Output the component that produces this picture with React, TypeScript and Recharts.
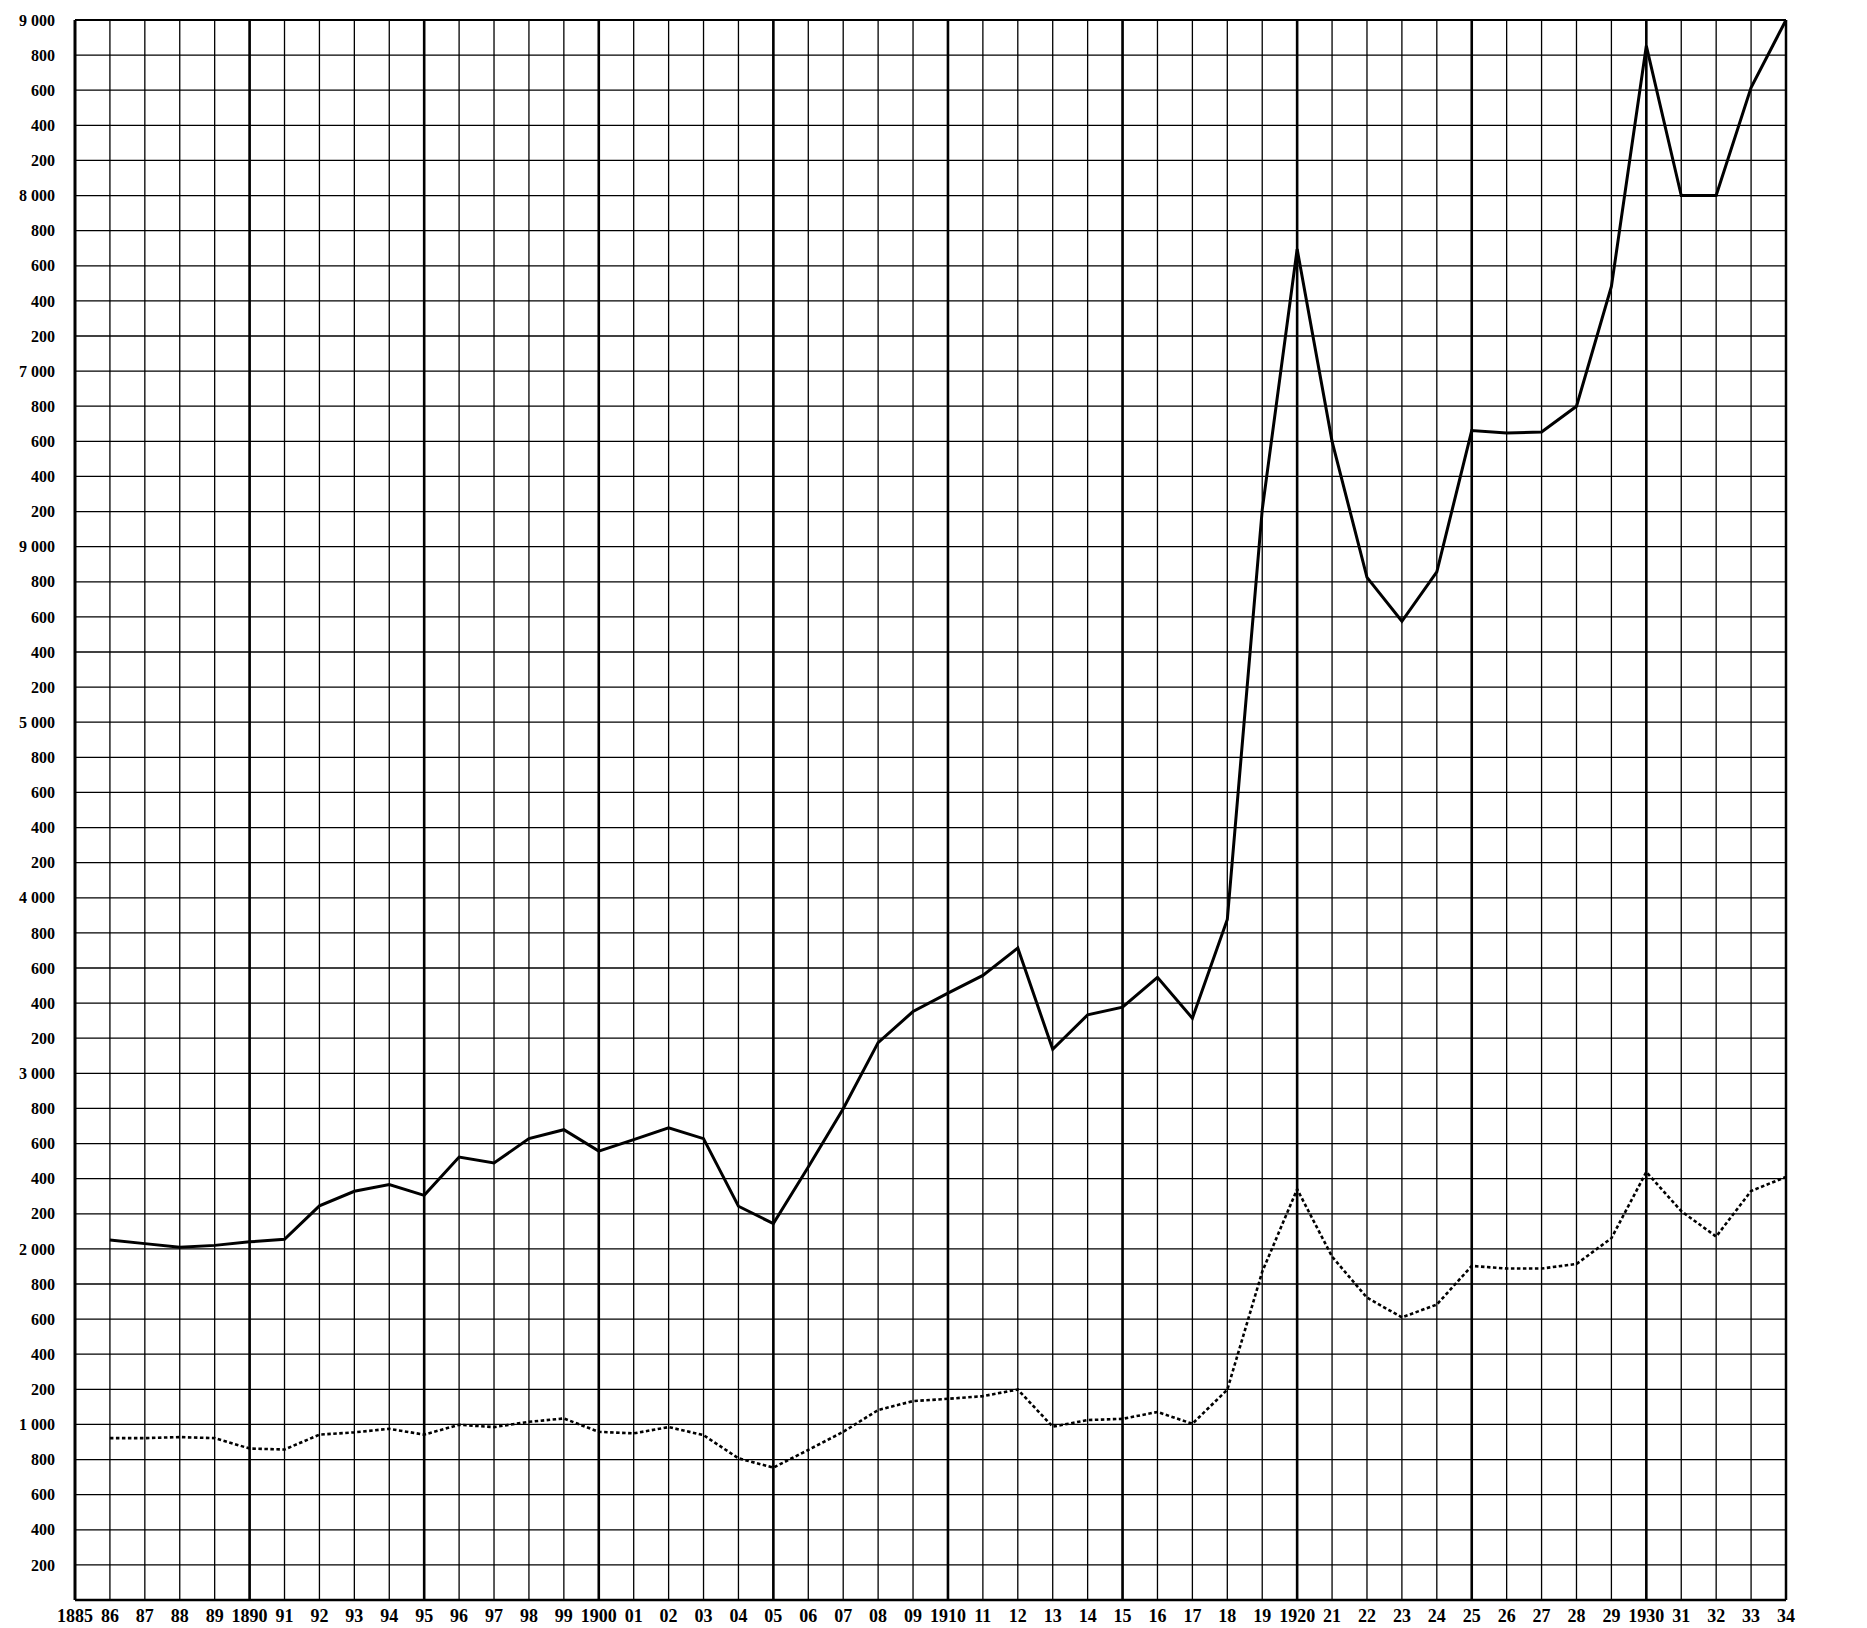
import React from 'react';
import { LineChart, Line, XAxis, YAxis, CartesianGrid, ReferenceLine } from 'recharts';

// years with observations (1886–1934)
const YEARS = [
  1886, 1887, 1888, 1889, 1890, 1891, 1892, 1893, 1894, 1895,
  1896, 1897, 1898, 1899, 1900, 1901, 1902, 1903, 1904, 1905,
  1906, 1907, 1908, 1909, 1910, 1911, 1912, 1913, 1914, 1915,
  1916, 1917, 1918, 1919, 1920, 1921, 1922, 1923, 1924, 1925,
  1926, 1927, 1928, 1929, 1930, 1931, 1932, 1933, 1934,
];

// heavy solid curve
const SOLID = [
  2050, 2030, 2010, 2020, 2040, 2055, 2245, 2328, 2366, 2305,
  2523, 2489, 2628, 2679, 2557, 2622, 2690, 2628, 2243, 2144,
  2466, 2798, 3175, 3352, 3457, 3558, 3714, 3137, 3333, 3377,
  3547, 3314, 3876, 6210, 7695, 6600, 5825, 5575, 5857, 6661,
  6648, 6653, 6800, 7482, 8853, 8000, 8000, 8615, 9000,
];

// dotted curve
const DOTTED = [
  922, 922, 928, 922, 863, 857, 942, 955, 975, 942,
  998, 985, 1015, 1034, 958, 949, 985, 939, 807, 754,
  855, 958, 1082, 1133, 1146, 1161, 1199, 987, 1025, 1032,
  1071, 1004, 1198, 1870, 2340, 1956, 1722, 1610, 1683, 1903,
  1888, 1888, 1914, 2061, 2438, 2215, 2070, 2330, 2410,
];

// x tick labels, 1885 … 1934
const X_LABELS = [
  '1885', '86', '87', '88', '89', '1890', '91', '92', '93', '94',
  '95', '96', '97', '98', '99', '1900', '01', '02', '03', '04',
  '05', '06', '07', '08', '09', '1910', '11', '12', '13', '14',
  '15', '16', '17', '18', '19', '1920', '21', '22', '23', '24',
  '25', '26', '27', '28', '29', '1930', '31', '32', '33', '34',
];

// y tick labels from 0 to 9000 every 200 (left side prints 6000 as "9 000")
const LEFT_LABELS = [
  '', '200', '400', '600', '800',
  '1 000', '200', '400', '600', '800',
  '2 000', '200', '400', '600', '800',
  '3 000', '200', '400', '600', '800',
  '4 000', '200', '400', '600', '800',
  '5 000', '200', '400', '600', '800',
  '9 000', '200', '400', '600', '800',
  '7 000', '200', '400', '600', '800',
  '8 000', '200', '400', '600', '800',
  '9 000',
];
const RIGHT_LABELS = [
  '', '200', '400', '600', '800',
  '1 000', '200', '400', '600', '800',
  '2 000', '200', '400', '600', '800',
  '3 000', '200', '400', '600', '800',
  '4 000', '200', '400', '600', '800',
  '5 000', '200', '400', '600', '800',
  '6 000', '200', '400', '600', '800',
  '7 000', '200', '400', '600', '800',
  '8 000', '200', '400', '600', '800',
  '9 000',
];

const FIRST_YEAR = 1885;
const LAST_YEAR = 1934;
const X_TICKS = X_LABELS.map((_, i) => FIRST_YEAR + i);
const Y_TICKS = LEFT_LABELS.map((_, i) => i * 200);
const HEAVY_YEARS = X_TICKS.filter((y) => y % 5 === 0 && y > FIRST_YEAR && y < LAST_YEAR);

const data = YEARS.map((year, i) => ({ year, solid: SOLID[i], dotted: DOTTED[i] }));

const tickFont = { fill: '#000', fontFamily: '"Liberation Serif", serif', fontWeight: 700 };

export default function App() {
  return (
    <div style={{ position: 'absolute', left: 0, top: 0, width: 1867, height: 1628, background: '#fff' }}>
      <LineChart width={1867} height={1628} data={data} margin={{ top: 20, right: 0, bottom: 0, left: 0 }}>
        <CartesianGrid yAxisId="l" stroke="#000" strokeWidth={1.3} />
        <XAxis
          dataKey="year"
          type="number"
          domain={[FIRST_YEAR, LAST_YEAR]}
          ticks={X_TICKS}
          interval={0}
          height={28}
          tickLine={false}
          tickSize={4}
          tickMargin={5}
          axisLine={{ stroke: '#000', strokeWidth: 2.5 }}
          tick={{ ...tickFont, fontSize: 18 }}
          tickFormatter={(v: number) => X_LABELS[v - FIRST_YEAR]}
        />
        <YAxis
          yAxisId="l"
          orientation="left"
          domain={[0, 9000]}
          ticks={Y_TICKS}
          interval={0}
          width={75}
          tickLine={false}
          tickSize={10}
          tickMargin={10}
          axisLine={{ stroke: '#000', strokeWidth: 3 }}
          tick={{ ...tickFont, fontSize: 16 }}
          tickFormatter={(v: number) => LEFT_LABELS[Math.round(v / 200)]}
        />
        <YAxis
          yAxisId="r"
          orientation="right"
          domain={[0, 9000]}
          ticks={Y_TICKS}
          interval={0}
          width={81}
          tickLine={false}
          tickSize={10}
          tickMargin={10}
          axisLine={{ stroke: '#000', strokeWidth: 2.5 }}
          tick={{ ...tickFont, fontSize: 16, textAnchor: 'start' }}
          tickFormatter={(v: number) => RIGHT_LABELS[Math.round(v / 200)]}
        />
        {HEAVY_YEARS.map((y) => (
          <ReferenceLine key={y} yAxisId="l" x={y} stroke="#000" strokeWidth={2.6} />
        ))}
        <ReferenceLine yAxisId="l" y={9000} stroke="#000" strokeWidth={2.2} />
        <Line
          yAxisId="l"
          dataKey="dotted"
          stroke="#000"
          strokeWidth={2.6}
          strokeDasharray="3.5 2.5"
          dot={false}
          isAnimationActive={false}
        />
        <Line
          yAxisId="l"
          dataKey="solid"
          stroke="#000"
          strokeWidth={3}
          dot={false}
          isAnimationActive={false}
        />
      </LineChart>
    </div>
  );
}
